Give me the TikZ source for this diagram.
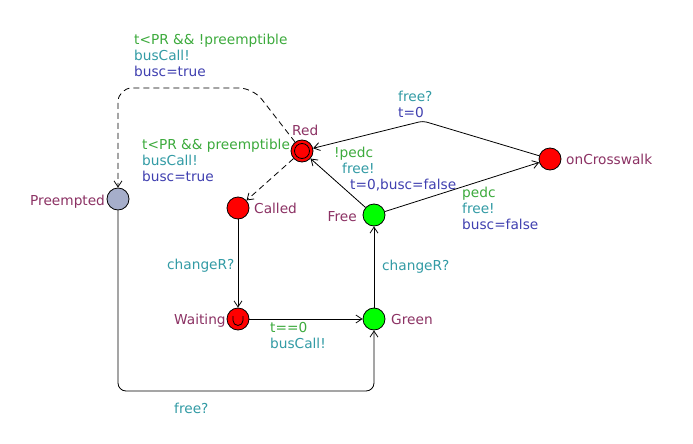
\documentclass[tikz,border=0pt]{standalone}
\usepackage{fontspec}
\setmainfont{DejaVu Sans}
\usetikzlibrary{arrows.meta}
\definecolor{namec}{RGB}{140,50,100}
\definecolor{guardc}{RGB}{60,170,60}
\definecolor{syncc}{RGB}{50,155,165}
\definecolor{updc}{RGB}{64,64,176}
\definecolor{prefill}{RGB}{166,174,202}
\begin{document}
\begin{tikzpicture}[x=1pt,y=-1pt,
  loc/.style={circle, draw, line width=0.8pt, minimum size=22pt, inner sep=0pt},
  txt/.style={anchor=base west, inner sep=0pt, font=\fontsize{13.7}{16}\selectfont},
  nm/.style={txt, text=namec},
  gd/.style={txt, text=guardc},
  sy/.style={txt, text=syncc},
  up/.style={txt, text=updc},
  dsh/.style={dash pattern=on 6pt off 4pt},
  edge/.style={draw, line width=0.8pt, -{Straight Barb[length=6pt,width=8pt]}}]
\useasboundingbox (0,0) rectangle (693,444);
\fill[white] (0,0) rectangle (693,444);

% locations
\node[loc, fill=red] (Red) at (302,151) {};
\draw[line width=0.8pt] (Red.center) circle (7.5pt);
\node[loc, fill=red] (On) at (550,159) {};
\node[loc, fill=green] (Free) at (374,215) {};
\node[loc, fill=red] (Called) at (238,208) {};
\node[loc, fill=red] (Wait) at (238,319) {};
\draw[line width=0.8pt] ([xshift=-5pt,yshift=3pt]Wait.center) -- ([xshift=-5pt,yshift=-1.5pt]Wait.center) arc[start angle=180,end angle=360,radius=5pt] -- ([xshift=5pt,yshift=3pt]Wait.center);
\node[loc, fill=green] (Green) at (374,319) {};
\node[loc, fill=prefill] (Pre) at (118,199) {};

% names
\node[nm] (nRed) at (292,135) {Red};
\node[nm] (nOn) at (566,164) {onCrosswalk};
\node[nm, anchor=base east] (nFree) at (357,221) {Free};
\node[nm] (nCalled) at (254,213) {Called};
\node[nm] (nWait) at (174,324) {Waiting};
\node[nm] (nGreen) at (391,324) {Green};
\node[nm] (nPre) at (30,205) {Preempted};

% edges
\draw[edge, dsh, rounded corners=14pt] (Red) -- (253,88) -- (118,88) -- (Pre);
\draw[edge, dsh] (Red) -- (Called);
\draw[edge, rounded corners=4pt] (On) -- (423,121) -- (Red);
\draw[edge] (Free) -- (Red);
\draw[edge] (Free) -- (On);
\draw[edge] (Called) -- (Wait);
\draw[edge] (Wait) -- (Green);
\draw[edge] (Green) -- (Free);
\draw[edge, rounded corners=8pt] (Pre) -- (118,391) -- (374,391) -- (Green);

% edge labels
\node[gd] (l1a) at (134,45) {t<PR \&\& !preemptible};
\node[sy] (l1b) at (134,61) {busCall!};
\node[up] (l1c) at (134,77) {busc=true};

\node[gd] (l2a) at (142,149) {t<PR \&\& preemptible};
\node[sy] (l2b) at (142,165) {busCall!};
\node[up] (l2c) at (142,181) {busc=true};

\node[sy] (l3a) at (398,101) {free?};
\node[up] (l3b) at (398,117) {t=0};

\node[gd] (l4a) at (334,157) {!pedc};
\node[sy] (l4b) at (342,173) {free!};
\node[up] (l4c) at (350,189) {t=0,busc=false};

\node[gd] (l5a) at (462,197) {pedc};
\node[sy] (l5b) at (462,213) {free!};
\node[up] (l5c) at (462,229) {busc=false};

\node[sy] (l6) at (167,269) {changeR?};
\node[sy] (l7) at (382,270) {changeR?};

\node[gd] (l8a) at (270,332) {t==0};
\node[sy] (l8b) at (270,348) {busCall!};

\node[sy] (l9) at (174,413) {free?};
\end{tikzpicture}
\end{document}
